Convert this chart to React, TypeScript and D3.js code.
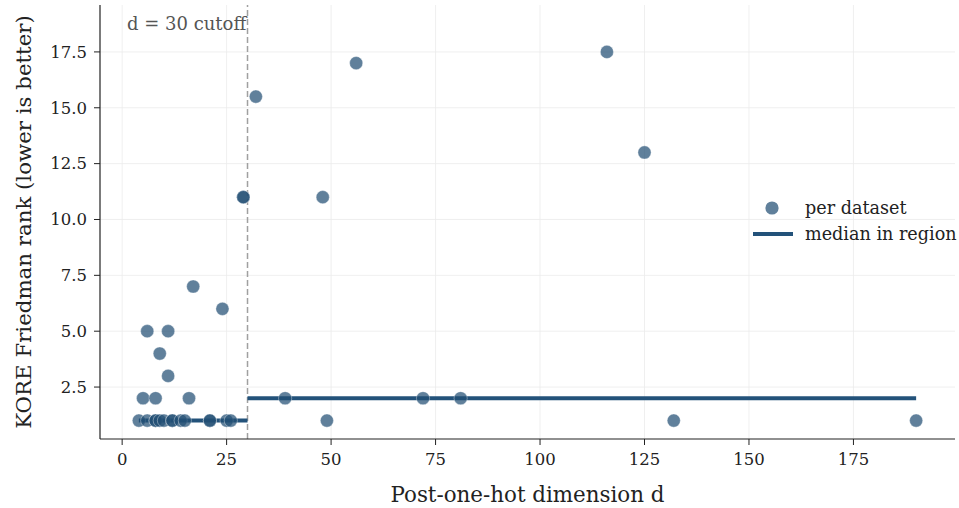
import React from "react";
import * as d3 from "d3";

// Post-one-hot dimension d and KORE Friedman rank per dataset
const dims: number[] = [
  4, 6, 8, 8, 9, 10, 12, 12, 14, 15, 21, 21, 25, 26,
  5, 8, 16, 11, 9, 6, 11, 24, 17, 29, 29,
  39, 72, 81, 49, 132, 190, 48, 32, 56, 116, 125,
];
const ranks: number[] = [
  1, 1, 1, 1, 1, 1, 1, 1, 1, 1, 1, 1, 1, 1,
  2, 2, 2, 3, 4, 5, 5, 6, 7, 11, 11,
  2, 2, 2, 1, 1, 1, 11, 15.5, 17, 17.5, 13,
];
const cutoff = 30;
const xTicks: number[] = [0, 25, 50, 75, 100, 125, 150, 175];
const yTicks: number[] = [2.5, 5.0, 7.5, 10.0, 12.5, 15.0, 17.5];

const W = 959;
const H = 508;
const M = { left: 100, right: 4, top: 5, bottom: 69 };
const FONT = "'DejaVu Serif', serif";
const POINT = "#234f75";
const MEDIAN = "#23527a";

export default function App() {
  const pts = dims.map((d, i) => ({ d, r: ranks[i] }));
  const x = d3.scaleLinear().domain([-5.3, 199.3]).range([M.left, W - M.right]);
  const y = d3.scaleLinear().domain([0.175, 19.6]).range([H - M.bottom, M.top]);

  const left = pts.filter((p) => p.d < cutoff);
  const right = pts.filter((p) => p.d >= cutoff);
  const segs = [
    { x0: d3.min(left, (p) => p.d)!, x1: cutoff, m: d3.median(left, (p) => p.r)! },
    { x0: cutoff, x1: d3.max(right, (p) => p.d)!, m: d3.median(right, (p) => p.r)! },
  ];
  const line = d3.line<[number, number]>().x((p) => x(p[0])).y((p) => y(p[1]));

  const [y0, y1] = y.range();
  const [x0, x1] = x.range();

  return (
    <svg width={W} height={H} style={{ position: "absolute", left: 0, top: 0 }} fontFamily={FONT}>
      <rect width={W} height={H} fill="#fff" />
      {/* grid */}
      {xTicks.map((t) => (
        <line key={"gx" + t} x1={x(t)} x2={x(t)} y1={y0} y2={y1} stroke="#ebebeb" strokeWidth={0.8} />
      ))}
      {yTicks.map((t) => (
        <line key={"gy" + t} x1={x0} x2={x1} y1={y(t)} y2={y(t)} stroke="#ebebeb" strokeWidth={0.8} />
      ))}
      {/* cutoff */}
      <line x1={x(cutoff)} x2={x(cutoff)} y1={y0} y2={y1} stroke="#a0a0a0" strokeWidth={1.5} strokeDasharray="6,3" />
      <text x={x0 + 27} y={30} fontSize={18} fill="#555">d = 30 cutoff</text>
      {/* medians */}
      {segs.map((s, i) => (
        <path key={"m" + i} d={line([[s.x0, s.m], [s.x1, s.m]])!} stroke={MEDIAN} strokeWidth={4} fill="none" />
      ))}
      {/* points */}
      {pts.map((p, i) => (
        <circle key={"p" + i} cx={x(p.d)} cy={y(p.r)} r={6.6} fill={POINT} fillOpacity={0.72} stroke="#fff" strokeOpacity={0.6} strokeWidth={0.6} />
      ))}
      {/* axes */}
      <line x1={x0} x2={x0} y1={y0} y2={y1} stroke="#222" strokeWidth={1.2} />
      <line x1={x0} x2={x1} y1={y0} y2={y0} stroke="#222" strokeWidth={1.2} />
      {xTicks.map((t) => (
        <g key={"tx" + t}>
          <line x1={x(t)} x2={x(t)} y1={y0} y2={y0 + 6} stroke="#222" strokeWidth={1} />
          <text x={x(t)} y={y0 + 26} fontSize={16.5} textAnchor="middle" fill="#222">{t}</text>
        </g>
      ))}
      {yTicks.map((t) => (
        <g key={"ty" + t}>
          <line x1={x0 - 6} x2={x0} y1={y(t)} y2={y(t)} stroke="#222" strokeWidth={1} />
          <text x={x0 - 13} y={y(t)} dy="0.35em" fontSize={16.5} textAnchor="end" fill="#222">{t.toFixed(1)}</text>
        </g>
      ))}
      <text x={(x0 + x1) / 2} y={502} fontSize={21.4} textAnchor="middle" fill="#222">Post-one-hot dimension d</text>
      <text transform={`translate(31, ${(y0 + y1) / 2}) rotate(-90)`} fontSize={21.3} textAnchor="middle" fill="#222">
        KORE Friedman rank (lower is better)
      </text>
      {/* legend */}
      <circle cx={772} cy={208} r={6.6} fill={POINT} fillOpacity={0.72} />
      <text x={805} y={208} dy="0.35em" fontSize={17.6} fill="#222">per dataset</text>
      <line x1={753} x2={793} y1={234} y2={234} stroke={MEDIAN} strokeWidth={4} />
      <text x={805} y={234} dy="0.35em" fontSize={17.6} fill="#222">median in region</text>
    </svg>
  );
}
